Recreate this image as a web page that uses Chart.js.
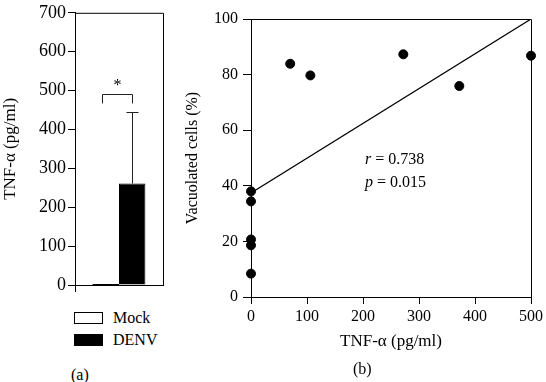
<!DOCTYPE html>
<html>
<head>
<meta charset="utf-8">
<script src="https://cdn.jsdelivr.net/npm/chart.js@4.4.1/dist/chart.umd.min.js"></script>
<style>
  body { margin: 0; background: #fff; }
  #wrap { position: relative; width: 546px; height: 382px; background: #fff; font-family: "Liberation Serif", serif; color: #000; }
  #cA { position: absolute; left: 0; top: 0; }
  #cB { position: absolute; left: 180px; top: 0; }
  .txt { position: absolute; font-size: 16px; line-height: 16px; white-space: nowrap; }
  .box { position: absolute; width: 27px; height: 10px; border: 1px solid #000; }
</style>
</head>
<body>
<div id="wrap">
  <canvas id="cA" width="180" height="300"></canvas>
  <canvas id="cB" width="366" height="382"></canvas>

  <div class="box" style="left:74px; top:312px; background:#fff;"></div>
  <div class="txt" style="left:113px; top:310px;">Mock</div>
  <div class="box" style="left:74px; top:334px; background:#000;"></div>
  <div class="txt" style="left:113px; top:332px;">DENV</div>
  <div class="txt" style="left:71px; top:367px;">(a)</div>

  <div class="txt" style="left:365px; top:151px;"><i>r</i> = 0.738</div>
  <div class="txt" style="left:365px; top:174px;"><i>p</i> = 0.015</div>
  <div class="txt" style="left:353px; top:361px;">(b)</div>
</div>

<script>
// panel (a): TNF-alpha by group
const groups = ['Mock', 'DENV'];
const tnfMean = [0, 261];
const tnfSD = [0, 183];
const tnfTicks = [0, 100, 200, 300, 400, 500, 600, 700];

// panel (b): vacuolated cells vs TNF-alpha
const tnfLevel = [0, 0, 0, 0, 0, 70, 106, 272, 372, 500];
const vacuolated = [38, 34.4, 20.7, 18.6, 8.4, 83.9, 79.7, 87.3, 75.9, 86.8];
const fitX = [0, 500];
const fitY = [37.4, 100];

Chart.defaults.font.family = '"Liberation Serif", serif';
Chart.defaults.color = '#000';
Chart.defaults.animation = false;

// top + right frame lines
const frame = {
  id: 'frame',
  afterDraw(chart) {
    const { ctx, chartArea: a } = chart;
    ctx.save();
    ctx.strokeStyle = '#000';
    ctx.lineWidth = 1;
    ctx.beginPath();
    ctx.moveTo(a.left, a.top + 0.5);
    ctx.lineTo(a.right + 0.5, a.top + 0.5);
    ctx.lineTo(a.right + 0.5, a.bottom);
    ctx.stroke();
    ctx.restore();
  }
};

// error bar + significance bracket for panel (a)
const errAndStar = {
  id: 'errAndStar',
  afterDatasetsDraw(chart) {
    const { ctx, chartArea: a } = chart;
    const y = chart.scales.y;
    ctx.save();
    ctx.strokeStyle = '#000';
    ctx.lineWidth = 1;
    // axis stubs past the corner
    const yb0 = Math.round(a.bottom) + 0.5;
    const xl0 = Math.round(a.left) + 0.5;
    ctx.beginPath();
    ctx.moveTo(a.left - 7, yb0);
    ctx.lineTo(a.left, yb0);
    ctx.moveTo(xl0, a.bottom);
    ctx.lineTo(xl0, a.bottom + 7);
    ctx.stroke();
    // zero-height Mock bar drawn as a line on the baseline
    const mock = chart.getDatasetMeta(0).data[0];
    ctx.lineWidth = 2;
    ctx.beginPath();
    ctx.moveTo(mock.x - mock.width / 2, a.bottom);
    ctx.lineTo(mock.x + mock.width / 2, a.bottom);
    ctx.stroke();

    ctx.strokeStyle = '#222';
    ctx.lineWidth = 1;
    groups.forEach((g, i) => {
      if (!tnfSD[i]) return;
      const bar = chart.getDatasetMeta(i).data[0];
      const x = Math.round(bar.x) + 0.5;
      const y0 = y.getPixelForValue(tnfMean[i]);
      const y1 = Math.round(y.getPixelForValue(tnfMean[i] + tnfSD[i])) + 0.5;
      ctx.beginPath();
      ctx.moveTo(x, y0);
      ctx.lineTo(x, y1);
      ctx.moveTo(x - 6, y1);
      ctx.lineTo(x + 6, y1);
      ctx.stroke();
    });
    const xl = Math.round(mock.x) - 3.5;
    const xr = Math.round(chart.getDatasetMeta(1).data[0].x) + 0.5;
    const yt = Math.round(y.getPixelForValue(492)) + 0.5;
    const yb = y.getPixelForValue(467);
    ctx.beginPath();
    ctx.moveTo(xl, yb);
    ctx.lineTo(xl, yt);
    ctx.lineTo(xr, yt);
    ctx.lineTo(xr, yb);
    ctx.stroke();
    ctx.fillStyle = '#000';
    ctx.font = '16px "Liberation Serif", serif';
    ctx.textAlign = 'center';
    ctx.textBaseline = 'middle';
    ctx.fillText('*', (xl + xr) / 2, y.getPixelForValue(512));
    ctx.restore();
  }
};

new Chart(document.getElementById('cA'), {
  type: 'bar',
  data: {
    labels: [''],
    datasets: groups.map((g, i) => ({
      label: g,
      data: [tnfMean[i]],
      backgroundColor: i === 0 ? '#fff' : '#000',
      borderColor: '#000',
      borderWidth: 1,
      categoryPercentage: 0.6,
      barPercentage: 1
    }))
  },
  options: {
    responsive: false,
    layout: { padding: { left: 0, right: 17, top: 6, bottom: 0 } },
    plugins: { legend: { display: false }, tooltip: { enabled: false } },
    scales: {
      x: {
        ticks: { display: false },
        grid: { display: false },
        border: { color: '#000', width: 1 },
        afterFit: s => { s.height = 15; }
      },
      y: {
        min: 0,
        max: 700,
        afterBuildTicks: s => { s.ticks = tnfTicks.map(v => ({ value: v })); },
        ticks: { font: { size: 18 }, padding: 2 },
        grid: { drawOnChartArea: false, tickLength: 7, color: '#000' },
        border: { color: '#000', width: 1 },
        title: { display: true, text: 'TNF-α (pg/ml)', font: { size: 17 }, padding: { top: 0, bottom: 0 } },
        afterFit: s => { s.width = 75; }
      }
    }
  },
  plugins: [frame, errAndStar]
});

new Chart(document.getElementById('cB'), {
  type: 'scatter',
  data: {
    datasets: [
      {
        label: 'Vacuolated cells',
        data: tnfLevel.map((x, i) => ({ x, y: vacuolated[i] })),
        backgroundColor: '#000',
        borderColor: '#000',
        pointRadius: 4.5,
        clip: false
      },
      {
        type: 'line',
        label: 'fit',
        data: fitX.map((x, i) => ({ x, y: fitY[i] })),
        borderColor: '#000',
        borderWidth: 1.2,
        pointRadius: 0,
        fill: false
      }
    ]
  },
  options: {
    responsive: false,
    layout: { padding: { left: 0, right: 12, top: 19, bottom: 0 } },
    plugins: { legend: { display: false }, tooltip: { enabled: false } },
    scales: {
      x: {
        type: 'linear',
        min: 0,
        max: 500,
        ticks: { stepSize: 100, font: { size: 16 }, padding: 3 },
        grid: { drawOnChartArea: false, tickLength: 7, color: '#000' },
        border: { color: '#000', width: 1 },
        title: { display: true, text: 'TNF-α (pg/ml)', font: { size: 17 }, padding: { top: 0, bottom: 30 } },
        afterFit: s => { s.height = 85; }
      },
      y: {
        min: 0,
        max: 100,
        ticks: { stepSize: 20, font: { size: 16 }, padding: 5 },
        grid: { drawOnChartArea: false, tickLength: 8, color: '#000' },
        border: { color: '#000', width: 1 },
        title: { display: true, text: 'Vacuolated cells (%)', font: { size: 16 }, padding: { top: 3, bottom: 0 } },
        afterFit: s => { s.width = 71; }
      }
    }
  },
  plugins: [frame]
});
</script>
</body>
</html>
